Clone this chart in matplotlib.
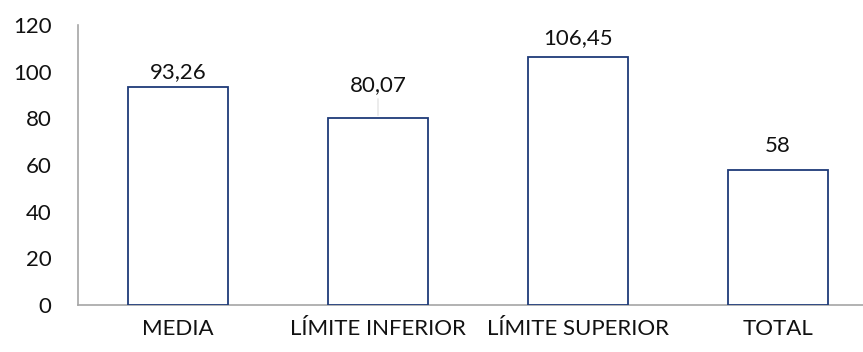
import matplotlib.pyplot as plt

categorias = ['MEDIA', 'LÍMITE INFERIOR', 'LÍMITE SUPERIOR', 'TOTAL']
valores = [93.26, 80.07, 106.45, 58]
etiquetas = ['93,26', '80,07', '106,45', '58']
y_ticks = [0, 20, 40, 60, 80, 100, 120]

# distancia del centro de cada etiqueta al tope de la barra (en puntos)
offsets = [11, 24, 13, 17]

plt.rcParams['font.family'] = ['Lato', 'DejaVu Sans']

fig = plt.figure(figsize=(8.63, 3.52), dpi=100)
W, H = 863, 352
ax = fig.add_axes([78 / W, 1 - 305 / H, (W - 78) / W, (305 - 25) / H])

x = list(range(len(categorias)))
ax.bar(x, valores, width=0.5, color='white', edgecolor='#1f3a78', linewidth=1.3, zorder=3)

for i, v in enumerate(valores):
    ax.annotate(etiquetas[i], (x[i], v), xytext=(0, offsets[i]), textcoords='offset points',
                ha='center', va='center', fontsize=16, color='#111111')
    if offsets[i] > 20:
        # linea guia tenue
        ax.annotate('', (x[i], v), xytext=(0, offsets[i] - 8), textcoords='offset points',
                    arrowprops=dict(arrowstyle='-', color='#dddddd', lw=0.8))

ax.set_xlim(-0.5, (W - 78) / 200 - 0.5)
ax.set_ylim(0, 120)
ax.set_yticks(y_ticks)
ax.set_xticks(x)
ax.set_xticklabels(categorias)
ax.tick_params(axis='both', length=0, labelsize=16, colors='#111111')
ax.tick_params(axis='y', pad=19)
ax.tick_params(axis='x', pad=10)

for s in ['top', 'right']:
    ax.spines[s].set_visible(False)
ax.spines['left'].set_color('#a6a6a6')
ax.spines['bottom'].set_color('#a6a6a6')
ax.spines['left'].set_linewidth(1.2)
ax.spines['bottom'].set_linewidth(1.2)

fig.savefig('out.png', dpi=100)
